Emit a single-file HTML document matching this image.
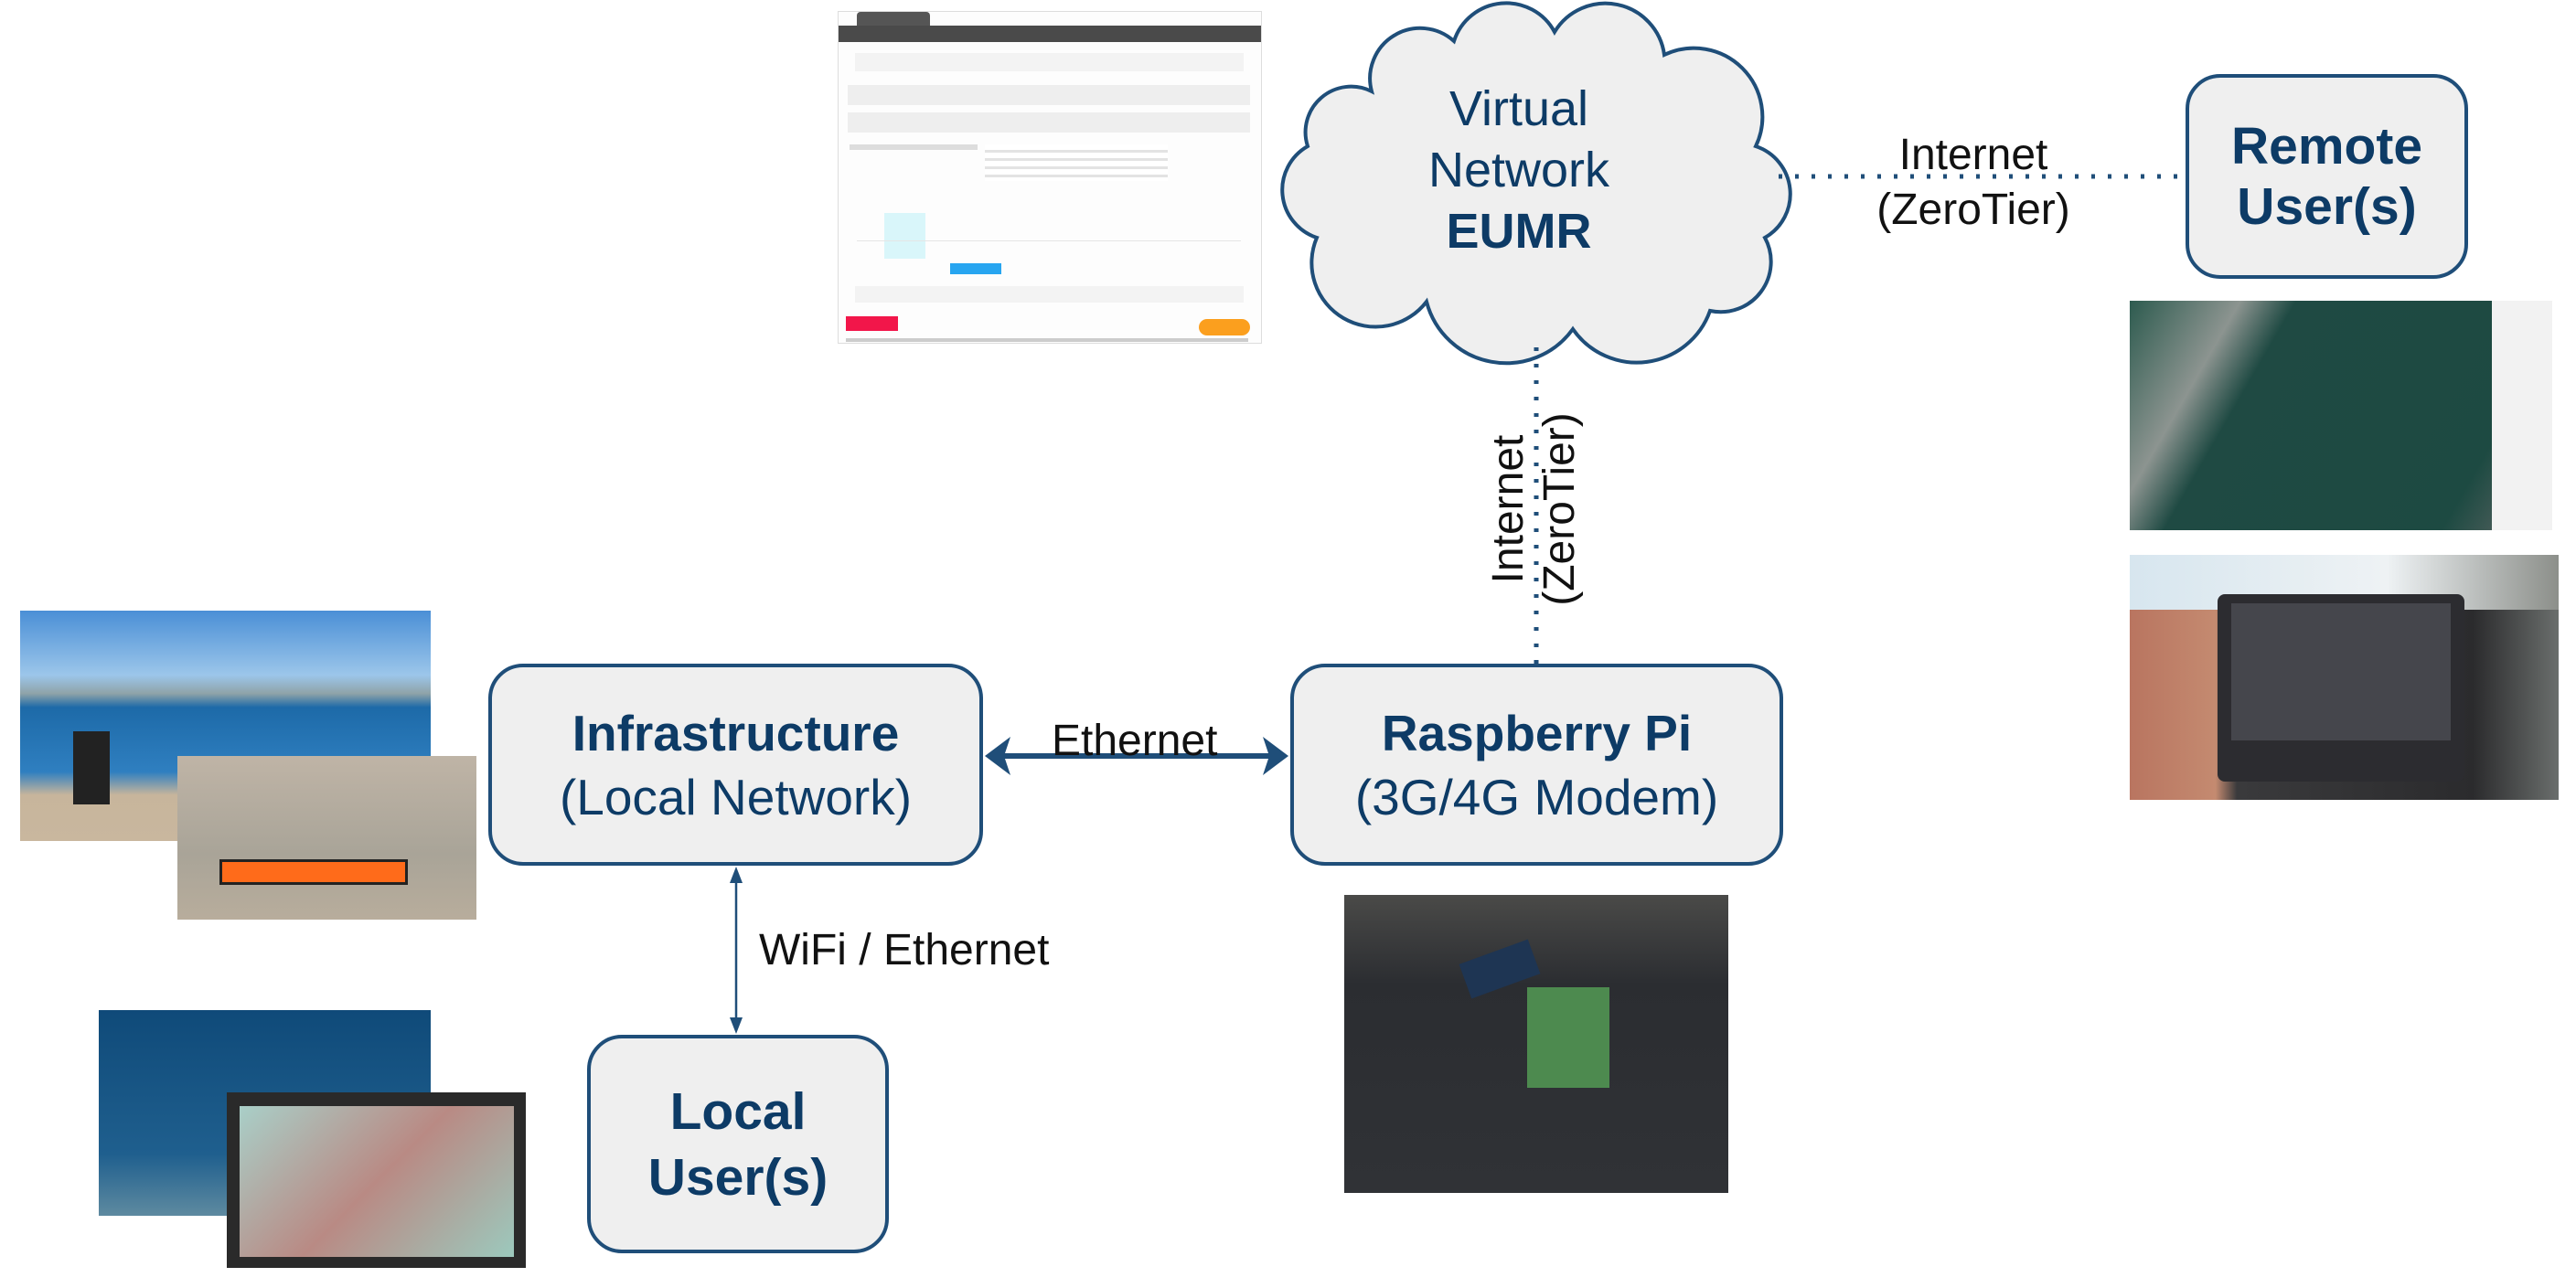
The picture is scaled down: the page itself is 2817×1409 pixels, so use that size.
<!DOCTYPE html>
<html><head><meta charset="utf-8"><style>
body{margin:0;width:2817px;height:1409px;background:#fff;position:relative;overflow:hidden;font-family:"Liberation Sans",Arial,sans-serif}
.box{position:absolute;background:#efefef;border:4px solid #1f4e79;border-radius:38px;box-sizing:border-box;display:flex;flex-direction:column;align-items:center;justify-content:center;color:#0d3b66;text-align:center;font-size:55px;line-height:70px}
.box b{font-weight:bold}
.lbl{position:absolute;font-size:48px;color:#111;white-space:nowrap}
.ph{position:absolute}
</style></head><body>

<div class="ph" style="left:916px;top:12px;width:462px;height:362px;background:#fdfdfd;border:1px solid #ddd">
 <div style="position:absolute;left:20px;top:0;width:80px;height:15px;background:#555;border-radius:4px 4px 0 0"></div>
 <div style="position:absolute;left:0;top:15px;width:462px;height:18px;background:#4a4a4a"></div>
 <div style="position:absolute;left:18px;top:45px;width:425px;height:20px;background:#f3f3f3"></div>
 <div style="position:absolute;left:10px;top:80px;width:440px;height:22px;background:#eee"></div>
 <div style="position:absolute;left:10px;top:110px;width:440px;height:22px;background:#eee"></div>
 <div style="position:absolute;left:12px;top:145px;width:140px;height:6px;background:#ddd"></div>
 <div style="position:absolute;left:160px;top:145px;width:200px;height:40px;background:repeating-linear-gradient(#fff 0 6px,#e3e3e3 6px 9px)"></div>
 <div style="position:absolute;left:50px;top:220px;width:45px;height:50px;background:#d9f6fa"></div>
 <div style="position:absolute;left:20px;top:250px;width:420px;height:1px;background:#e5e5e5"></div>
 <div style="position:absolute;left:122px;top:275px;width:56px;height:12px;background:#27a5f0"></div>
 <div style="position:absolute;left:18px;top:300px;width:425px;height:18px;background:#f3f3f3"></div>
 <div style="position:absolute;left:8px;top:333px;width:57px;height:16px;background:#f2164a"></div>
 <div style="position:absolute;left:394px;top:336px;width:56px;height:18px;background:#fb9f1e;border-radius:9px"></div>
 <div style="position:absolute;left:8px;top:357px;width:440px;height:4px;background:#ccc"></div>
</div>

<svg style="position:absolute;left:0;top:0" width="2817" height="1409">
 <path d="M1500 100 A55 55 0 0 1 1590 45 A60 60 0 0 1 1700 35 A65 65 0 0 1 1820 60 A75 75 0 0 1 1920 160 A55 55 0 0 1 1930 260 A55 55 0 0 1 1870 340 A85 85 0 0 1 1720 360 A90 90 0 0 1 1560 330 A70 70 0 0 1 1440 260 A55 55 0 0 1 1430 160 A50 50 0 0 1 1500 100 Z" fill="#efefef" stroke="#1f4e79" stroke-width="4"/>
 <line x1="1945" y1="193" x2="2390" y2="193" stroke="#1f4e79" stroke-width="5" stroke-dasharray="4 14"/>
 <line x1="1680" y1="380" x2="1680" y2="726" stroke="#1f4e79" stroke-width="5" stroke-dasharray="4 14"/>
 <line x1="1090" y1="827" x2="1398" y2="827" stroke="#1f4e79" stroke-width="6"/>
 <path d="M1077 827 L1105 806 L1098 827 L1105 848 Z" fill="#1f4e79"/>
 <path d="M1409 827 L1381 806 L1388 827 L1381 848 Z" fill="#1f4e79"/>
 <line x1="805" y1="955" x2="805" y2="1125" stroke="#1f4e79" stroke-width="2.5"/>
 <path d="M805 948 L798 966 L812 966 Z" fill="#1f4e79"/>
 <path d="M805 1131 L798 1113 L812 1113 Z" fill="#1f4e79"/>
</svg>
<div style="position:absolute;left:1471px;top:86px;width:380px;text-align:center;color:#0d3b66;font-size:54px;line-height:67px">Virtual<br>Network<br><b>EUMR</b></div>

<div class="box" style="left:534px;top:726px;width:541px;height:221px"><b>Infrastructure</b><span>(Local Network)</span></div>
<div class="box" style="left:1411px;top:726px;width:539px;height:221px"><b>Raspberry Pi</b><span>(3G/4G Modem)</span></div>
<div class="box" style="left:642px;top:1132px;width:330px;height:239px;font-size:57px;line-height:72px"><b>Local</b><b>User(s)</b></div>
<div class="box" style="left:2390px;top:81px;width:309px;height:224px;font-size:57px;line-height:66px"><b>Remote</b><b>User(s)</b></div>

<div class="lbl" style="left:1150px;top:783px">Ethernet</div>
<div class="lbl" style="left:830px;top:1012px">WiFi / Ethernet</div>
<div class="lbl" style="left:2158px;top:200px;transform:translate(-50%,-50%);text-align:center;line-height:60px">Internet<br>(ZeroTier)</div>
<div class="lbl" style="left:1678px;top:557px;transform:translate(-50%,-50%) rotate(-90deg);text-align:center;line-height:56px">Internet<br>(ZeroTier)</div>

<div class="ph" style="left:22px;top:668px;width:449px;height:252px;background:linear-gradient(#4a8fd6 0%,#9cc6ea 28%,#8fa3a8 36%,#1d6aa8 42%,#2f7fc0 70%,#c7b59c 80%,#c9b79e 100%)"></div>
<div class="ph" style="left:80px;top:800px;width:40px;height:80px;background:#222"></div>
<div class="ph" style="left:194px;top:827px;width:327px;height:179px;background:linear-gradient(#bfb4a6,#a9a498 60%,#b8ad9c)"></div>
<div class="ph" style="left:240px;top:940px;width:200px;height:22px;background:#ff6b1a;border:3px solid #222"></div>

<div class="ph" style="left:108px;top:1105px;width:363px;height:225px;background:linear-gradient(#0f4a79,#1f5f8e 70%,#5e8aa0)"></div>
<div class="ph" style="left:248px;top:1195px;width:327px;height:192px;background:#2a2a2a"></div>
<div class="ph" style="left:262px;top:1210px;width:300px;height:165px;background:linear-gradient(135deg,#a9cfc8,#b98a84 50%,#9cc9bd)"></div>

<div class="ph" style="left:1470px;top:979px;width:420px;height:326px;background:linear-gradient(#4a4a48,#2b2d31 30%,#303236 100%)"></div>
<div class="ph" style="left:1670px;top:1080px;width:90px;height:110px;background:#4d8a4f"></div>
<div class="ph" style="left:1600px;top:1040px;width:80px;height:40px;background:#1e3553;transform:rotate(-20deg)"></div>

<div class="ph" style="left:2329px;top:329px;width:462px;height:251px;background:linear-gradient(120deg,#2d5b4f 0%,#8c9490 20%,#1f4a43 30%,#1d4a42 80%,#6b6b6b 100%)"></div>
<div class="ph" style="left:2725px;top:329px;width:66px;height:251px;background:#f2f2f2"></div>

<div class="ph" style="left:2329px;top:607px;width:469px;height:268px;background:linear-gradient(90deg,#b97560 0%,#c48a70 20%,#3a3a3c 25%,#2b2b2d 80%,#6a6e6c 100%)"></div>
<div class="ph" style="left:2329px;top:607px;width:469px;height:60px;background:linear-gradient(90deg,#d7e6ef,#eef2f4 60%,#8c8f8a)"></div>
<div class="ph" style="left:2425px;top:650px;width:270px;height:205px;background:#2c2c30;border-radius:8px"></div>
<div class="ph" style="left:2440px;top:660px;width:240px;height:150px;background:#45464c"></div>
</body></html>
